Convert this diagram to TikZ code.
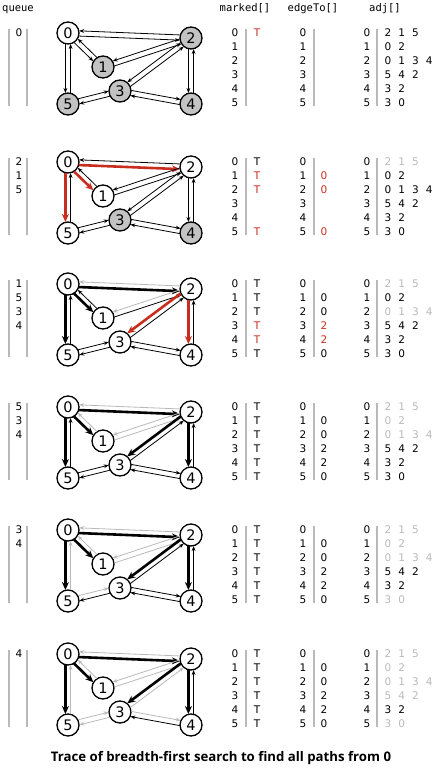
\documentclass[tikz,border=0pt]{standalone}
\usepackage{fontspec}
\setmainfont{DejaVu Sans}
\setmonofont{DejaVu Sans Mono}
\newfontfamily\titlefont{Open Sans}
\usetikzlibrary{arrows.meta,calc}

\definecolor{hot}{RGB}{200,45,30}
\definecolor{pale}{RGB}{185,185,185}
\definecolor{shade}{RGB}{195,195,195}

\begin{document}
\begin{tikzpicture}[x=1pt,y=-1pt,
  vtx/.style={circle,draw,line width=1.3pt,minimum size=22pt,inner sep=0pt,font=\fontsize{14.5}{14.5}\selectfont},
  vtx on/.style={fill=white},
  vtx off/.style={fill=shade},
  hop/.style={shorten >=11pt,shorten <=11pt},
  hop idle/.style={hop,line width=0.8pt,-{Stealth[length=5pt,width=3.8pt]}},
  hop fade new/.style={hop idle,pale},
  hop fade old/.style={hop idle,pale},
  hop tree new/.style={hop,line width=2.6pt,hot,-{Stealth[length=8pt,width=7pt]}},
  hop tree old/.style={hop tree new,black},
  cell/.style={inner sep=0pt,font=\fontsize{10.5}{10.5}\selectfont},
  head/.style={anchor=base,inner sep=0pt,font=\fontsize{10.5}{10.5}\ttfamily},
  bar/.style={line width=2pt,pale}]
  \useasboundingbox (0,0) rectangle (434,771);
  \node[head] (hq) at (18,11) {queue};
  \node[head] (hm) at (245,11) {marked[]};
  \node[head] (he) at (313,11) {edgeTo[]};
  \node[head] (ha) at (385,11) {adj[]};
  \foreach \p/\b/\q in {1/33/{0},2/162/{2,1,5},3/284/{1,5,3,4},4/407/{5,3,4},5/530/{3,4},6/654/{4}}{
    % queue
    \draw[bar] (9,\b-4) -- (9,\b+73);
    \draw[bar] (27,\b-4) -- (27,\b+73);
    \foreach \x [count=\n from 0] in \q
      \node[cell] (q\p-\n) at (19,\b+14*\n) {\x};
    % tables: row / marked in / edgeTo / done in / adj
    \foreach \c in {246,314,377}
      \draw[bar] (\c,\b-4) -- (\c,\b+73);
    \foreach \r/\m/\e/\k/\adj in {0/1/-/2/{2,1,5},1/2/0/4/{0,2},2/2/0/3/{0,1,3,4},3/3/2/6/{5,4,2},4/3/2/7/{3,2},5/2/0/5/{3,0}}{
      \node[cell] (m\p-\r) at (235,\b+13.9*\r) {\r};
      \node[cell] (e\p-\r) at (303,\b+13.9*\r) {\r};
      \node[cell] (a\p-\r) at (367,\b+13.9*\r) {\r};
      \ifnum\p<\m\else
        \ifnum\p=\m\def\ink{hot}\else\def\ink{black}\fi
        \node[cell,\ink] (mv\p-\r) at ([xshift=22pt]m\p-\r) {T};
        \ifnum\r>0 \node[cell,\ink] (ev\p-\r) at ([xshift=21pt]e\p-\r) {\e};\fi
      \fi
      \ifnum\p<\k\def\ink{black}\else\def\ink{pale}\fi
      \foreach \x [count=\n from 0] in \adj
        \node[cell,\ink] (l\p-\r-\n) at ([xshift=21pt+13.7pt*\n]a\p-\r) {\x};
    }
    % graph
    \foreach \v/\m/\x/\y in {0/1/68/0,1/2/103/34,2/2/191/5,3/3/120/58,4/3/191/71,5/2/68/71}{
      \ifnum\p<\m\def\st{vtx off}\else\def\st{vtx on}\fi
      \node[vtx,\st] (g\p-\v) at (\x,\b+\y) {\v};
    }
    \foreach \i/\j/\s/\k/\kind in {0/2/1/2/tree,2/0/1/3/fade,0/1/1/2/tree,1/0/1/4/fade,
        0/5/1/2/tree,5/0/1/5/fade,1/2/1/4/fade,2/1/1/3/fade,2/3/1/3/tree,3/2/1/6/fade,
        2/4/1/3/tree,4/2/1/7/fade,3/4/-1/6/fade,4/3/-1/7/fade,5/3/-1/5/fade,3/5/-1/6/fade}{
      \ifnum\p<\k\def\st{hop idle}\else
        \ifnum\p=\k\edef\st{hop \kind\space new}\else\edef\st{hop \kind\space old}\fi
      \fi
      \draw[\st] ($(g\p-\i)!\s*2.6pt!-90:(g\p-\j)$) -- ($(g\p-\j)!\s*2.6pt!90:(g\p-\i)$);
    }
  }
  \node[font=\titlefont\bfseries\fontsize{13.2}{13.2}\selectfont] (title) at (221,758)
    {Trace of breadth-first search to find all paths from 0};
\end{tikzpicture}
\end{document}
